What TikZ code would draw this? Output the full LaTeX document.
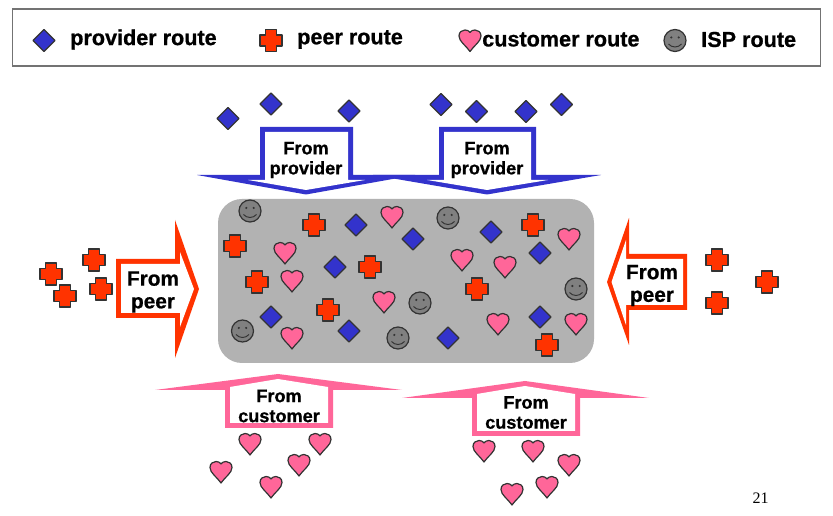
\documentclass[tikz,border=0pt]{standalone}
\usepackage{fontspec}
\setmainfont{Liberation Sans}[BoldFeatures={FakeBold=0.8}]
\newfontfamily\numfont{Liberation Serif}
\definecolor{provblue}{HTML}{3333CC}
\definecolor{peerred}{HTML}{FF3300}
\definecolor{custpink}{HTML}{FF6699}
\definecolor{ispgray}{HTML}{808080}
\definecolor{corebox}{HTML}{B2B2B2}
\definecolor{edgedark}{HTML}{333333}
\tikzset{
  glyph/.style={draw=edgedark,line width=0.9pt,line join=round},
  legtext/.style={font=\bfseries\fontsize{16.2}{18}\selectfont,anchor=west,inner sep=0pt},
  arrtext/.style={font=\bfseries\fontsize{13.6}{15}\selectfont,align=center,inner sep=0pt},
  peertext/.style={font=\bfseries\fontsize{15.6}{17}\selectfont,align=center,inner sep=0pt},
  pics/diamondmark/.style={code={\path[glyph,fill=provblue] (-11,0)--(0,-11)--(11,0)--(0,11)--cycle;}},
  pics/crossmark/.style={code={\path[glyph,fill=peerred] (-5.5,-11)--(5.5,-11)--(5.5,-5.5)--(11,-5.5)--(11,5.5)--(5.5,5.5)--(5.5,11)--(-5.5,11)--(-5.5,5.5)--(-11,5.5)--(-11,-5.5)--(-5.5,-5.5)--cycle;}},
  pics/heartmark/.style={code={\path[glyph,fill=custpink] (0,11) .. controls (-4,5) and (-11,1) .. (-11,-4.5) .. controls (-11,-8.5) and (-8,-10.5) .. (-5,-10.5) .. controls (-2.5,-10.5) and (-1,-9.5) .. (0,-8) .. controls (1,-9.5) and (2.5,-10.5) .. (5,-10.5) .. controls (8,-10.5) and (11,-8.5) .. (11,-4.5) .. controls (11,1) and (4,5) .. (0,11) -- cycle;}},
  pics/smileymark/.style={code={
    \path[glyph,fill=ispgray] (0,0) circle[radius=11];
    \fill[edgedark] (-3.7,-3) circle[radius=1.2] (3.7,-3) circle[radius=1.2];
    \draw[edgedark,line width=0.7pt] (-6.5,3.5) .. controls (-3,7.5) and (3,7.5) .. (6.5,3.5);
  }},
}
\begin{document}
\begin{tikzpicture}[x=0.75pt,y=-0.75pt]
\useasboundingbox (0,0) rectangle (833,516);
\fill[white] (0,0) rectangle (833,516);
% legend
\node[draw=black!55,line width=1.1pt,minimum width=606pt,minimum height=42.75pt,inner sep=0pt,anchor=north west] (legend) at (12,8.5) {};
\pic at (44,40.5) {diamondmark};
\pic at (271,40.5) {crossmark};
\pic at (470,40.5) {heartmark};
\pic at (675,40.5) {smileymark};
\node[legtext] (lprov) at (70,39.5) {provider route};
\node[legtext] (lpeer) at (297,39.5) {peer route};
\node[legtext] (lcust) at (482,39.5) {customer route};
\node[legtext] (lisp) at (701,39.5) {ISP route};
% core
\path[fill=corebox,rounded corners=18pt] (218,199) rectangle (594,363);
% blue arrows
\fill[provblue] (260,127)--(353,127)--(353,175)--(415,175)--(306,194.5)--(197,175)--(260,175)--cycle;
\fill[provblue] (439,127)--(536,127)--(536,175)--(601,175)--(487,194.5)--(373,175)--(439,175)--cycle;
\fill[white] (265,132)--(348,132)--(348,180)--(365,180)--(306,190)--(248,180)--(265,180)--cycle;
\fill[white] (444,132)--(531,132)--(531,180)--(548,180)--(487,190)--(427,180)--(444,180)--cycle;
\node[arrtext] (tprov1) at (306,160) {From\\provider};
\node[arrtext] (tprov2) at (487,160) {From\\provider};
% peer arrows
\fill[peerred] (116,259)--(175,259)--(175,220)--(199,289)--(175,358)--(175,318)--(116,318)--cycle;
\fill[white] (121,264)--(180,264)--(180,252)--(194,289)--(180,327)--(180,313)--(121,313)--cycle;
\node[peertext] (tpeer1) at (153,292) {From\\peer};
\fill[peerred] (687,254)--(629,254)--(629,218)--(607,282)--(629,345)--(629,310)--(687,310)--cycle;
\fill[white] (683,259)--(626,259)--(626,240)--(611.5,282)--(626,325)--(626,305)--(683,305)--cycle;
\node[peertext] (tpeer2) at (652,285.5) {From\\peer};
% customer arrows
\fill[custpink] (278,374)--(402,390)--(333,390)--(333,428)--(225,428)--(225,390)--(155,390)--cycle;
\fill[white] (278,379)--(328,387)--(328,423)--(230,423)--(230,387)--cycle;
\node[arrtext] (tcust1) at (279,406) {From\\customer};
\fill[custpink] (525,381)--(649,398)--(580,398)--(580,436)--(472,436)--(472,398)--(402,398)--cycle;
\fill[white] (525,386)--(575,394)--(575,431)--(477,431)--(477,394)--cycle;
\node[arrtext] (tcust2) at (526,412.5) {From\\customer};
% marks
\foreach \p in {(228,118.5),(271,104),(349,111),(441,104.5),(476.5,111.5),(526,111.5),(561.5,104.5),
  (356,225),(335,267),(271,317),(349,331),(413,239),(491,232),(540,253),(540,317),(448,338)}
  \pic at \p {diamondmark};
\foreach \p in {(314,225),(235,246),(257,282),(370,267),(328,310),(533,225),(477,289),(547,345),
  (51,274),(94,260),(65,296),(101,289),(717,260),(717,303),(767,282)}
  \pic at \p {crossmark};
\foreach \p in {(392,217),(285,253),(292,281),(384,302),(292,338),(462,260),(505,267),(569,239),(498,324),(576,324),
  (250,444),(320,444),(221,472),(299,465),(271,487),(484,451),(533,451),(569,465),(547,487),(512,494)}
  \pic at \p {heartmark};
\foreach \p in {(250,211),(242.5,331),(398,338),(420,303),(448,218),(576,289)}
  \pic at \p {smileymark};
\node[font=\numfont\fontsize{12}{14}\selectfont,inner sep=0pt] (pageno) at (760.5,498.5) {21};
\end{tikzpicture}
\end{document}
